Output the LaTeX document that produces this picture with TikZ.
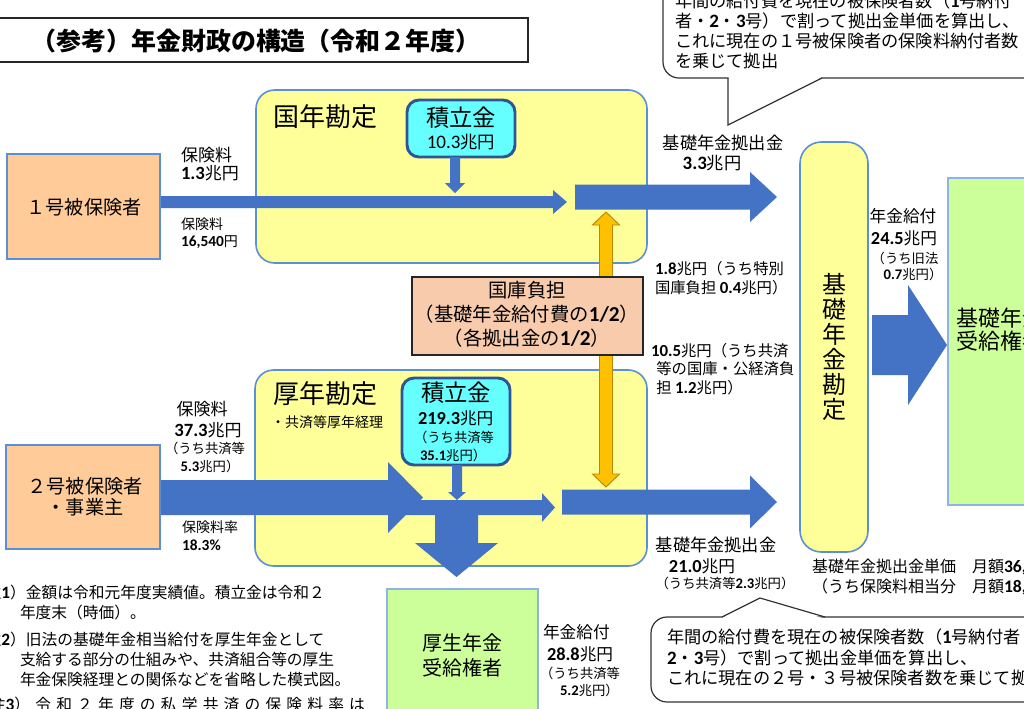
\documentclass[tikz,border=0pt]{standalone}
\usepackage{fontspec}
\setmainfont{Noto Sans CJK JP}
\newfontfamily\carl{Carlito}[Scale=1.1]
\newcommand\nb[1]{{\carl\bfseries #1}}
\newcommand\nr[1]{{\carl #1}}
\usetikzlibrary{fit}
\definecolor{acctyellow}{HTML}{FFFF99}
\definecolor{boxblue}{HTML}{5B8FD6}
\definecolor{fundcyan}{HTML}{66FFFF}
\definecolor{funddark}{HTML}{2F5597}
\definecolor{peach}{HTML}{FFCC99}
\definecolor{kokkofill}{HTML}{F8CBAD}
\definecolor{arrowblue}{HTML}{4472C4}
\definecolor{subsidyorange}{HTML}{FFC000}
\definecolor{subsidyedge}{HTML}{B8860B}
\definecolor{recvgreen}{HTML}{CCFF99}
\definecolor{recvblue}{HTML}{8EB4E3}
% horizontal block arrow: style, x start, x tip, y centre, shaft half, head half, head length
\newcommand\harr[7]{\fill[#1] (#2,{#4-#5}) -- ({#3-#7},{#4-#5}) -- ({#3-#7},{#4-#6}) -- (#3,#4) -- ({#3-#7},{#4+#6}) -- ({#3-#7},{#4+#5}) -- (#2,{#4+#5}) -- cycle;}
% vertical (downward) block arrow: style, x centre, y start, y tip, shaft half, head half, head length
\newcommand\varr[7]{\fill[#1] ({#2-#5},#3) -- ({#2-#5},{#4-#7}) -- ({#2-#6},{#4-#7}) -- (#2,#4) -- ({#2+#6},{#4-#7}) -- ({#2+#5},{#4-#7}) -- ({#2+#5},#3) -- cycle;}
\begin{document}
\begin{tikzpicture}[x=0.75pt,y=-0.75pt,
  acct/.style={draw=boxblue,line width=1.2pt,fill=acctyellow,rounded corners=14pt,inner sep=0pt},
  fund/.style={draw=funddark,line width=2.2pt,fill=fundcyan,rounded corners=9pt,inner sep=0pt},
  person/.style={draw=boxblue,line width=1.1pt,fill=peach,inner sep=0pt},
  recv/.style={draw=recvblue,line width=1.2pt,fill=recvgreen,inner sep=0pt},
  kokko/.style={draw=black!85,line width=1.6pt,fill=kokkofill,inner sep=0pt},
  titlebox/.style={draw=black!85,line width=1.3pt,fill=white,inner sep=0pt},
  flow/.style={fill=arrowblue},
  subsidy/.style={fill=subsidyorange,draw=subsidyedge,line width=0.7pt},
  callout/.style={draw=black!80,line width=0.9pt,fill=white},
  lbl/.style={inner sep=0pt,outer sep=0pt},
]
\useasboundingbox (0,0) rectangle (1024,708);
\clip (0,0) rectangle (1024,708);
\fill[white] (0,0) rectangle (1024,708);

% ---------- title ----------
\node[titlebox, fit={(-3,18)(528,62)}] (titlefr) {};
\node[lbl, font={\fontsize{18.7}{20}\selectfont\bfseries}] (title) at (256,41) {（参考）年金財政の構造（令和２年度）};

% ---------- accounts ----------
\node[acct, fit={(256,90)(647,263)}] (kokunen) {};
\node[acct, fit={(255,370)(647,566)}] (kounen) {};
\node[acct, rounded corners=16pt, fit={(800,142)(868,552)}] (kiso) {};

\node[lbl, anchor=west, font={\fontsize{19.5}{20}\selectfont}] (kokunenlbl) at (273,117) {国年勘定};
\node[lbl, anchor=west, font={\fontsize{19.5}{20}\selectfont}] (kounenlbl) at (273,394) {厚年勘定};
\node[lbl, anchor=west, font={\fontsize{10.5}{12}\selectfont}] (kyosai) at (271,422) {・共済等厚年経理};

\node[lbl, align=center, font={\fontsize{18}{18.75}\selectfont}] (kisot) at (834,347) {基\\礎\\年\\金\\勘\\定};

% ---------- reserve funds ----------
\node[fund, fit={(407,100)(515,157)}] (fund1) {};
\node[lbl, font={\fontsize{17.5}{18}\selectfont}] (fund1a) at (461,118) {積立金};
\node[lbl, font={\fontsize{13}{14}\selectfont}] (fund1b) at (461,142) {\nr{10.3}兆円};

\node[fund, fit={(402,378)(510,465)}] (fund2) {};
\node[lbl, font={\fontsize{17.5}{18}\selectfont}] (fund2a) at (456,393) {積立金};
\node[lbl, anchor=west, font={\fontsize{12.5}{13}\selectfont}] (fund2b) at (418,418) {\nb{219.3}兆円};
\node[lbl, anchor=west, font={\fontsize{10}{11}\selectfont}] (fund2c) at (414,437) {（うち共済等};
\node[lbl, anchor=west, font={\fontsize{10}{11}\selectfont}] (fund2d) at (420,455) {\nb{35.1}兆円）};

% ---------- insured ----------
\node[person, fit={(7,154)(160,259)}] (p1) {};
\node[lbl, font={\fontsize{14.4}{15}\selectfont}] (p1t) at (84,207) {１号被保険者};
\node[person, fit={(6,445)(160,549)}] (p2) {};
\node[lbl, align=center, font={\fontsize{14.4}{15.75}\selectfont}] (p2t) at (85,497) {２号被保険者\\・事業主};

% ---------- blue flows ----------
\varr{flow}{455}{157}{193}{5}{10}{10}
\harr{flow}{161}{567}{202}{6}{12}{14}
\harr{flow}{575}{777}{197}{12.5}{25}{27}

\varr{flow}{457}{465}{500}{5}{9}{8}
\harr{flow}{400}{555}{507.5}{7.5}{14.5}{13}
\harr{flow}{161}{423}{497.5}{17.5}{35.5}{35}
\varr{flow}{456.5}{512}{577}{21.5}{41.5}{34}
\harr{flow}{562}{777}{502}{12.5}{26.5}{27}

\harr{flow}{872}{947}{345}{30}{60}{39}

% ---------- state subsidy ----------
\path[subsidy] (606,212) -- (619.5,225) -- (612.5,225) -- (612.5,474) -- (619.5,474) -- (606,487)
  -- (592.5,474) -- (599.5,474) -- (599.5,225) -- (592.5,225) -- cycle;
\node[kokko, fit={(412,277)(643,355)}] (kokko) {};
\node[lbl, align=center, font={\fontsize{14.5}{18}\selectfont}] (kokkot) at (527,314)
  {国庫負担\\（基礎年金給付費の\nb{1/2}）\\（各拠出金の\nb{1/2}）};

% ---------- receivers ----------
\node[recv, fit={(948,178)(1040,505)}] (recvk) {};
\node[lbl, anchor=west, align=left, font={\fontsize{16.5}{17.25}\selectfont}] (recvkt) at (956,330) {基礎年金\\受給権者};
\node[recv, fit={(387,589)(538,720)}] (recvk2) {};
\node[lbl, align=center, font={\fontsize{15}{18.75}\selectfont}] (recvk2t) at (462,655) {厚生年金\\受給権者};

% ---------- flow labels ----------
\node[lbl, anchor=west, align=left, font={\fontsize{12.75}{13.5}\selectfont}] (prem1) at (181,164) {保険料\\\nb{1.3}兆円};
\node[lbl, anchor=west, align=left, font={\fontsize{10.5}{12.75}\selectfont}] (rate1) at (181,233) {保険料\\\nb{16,540}円};

\node[lbl, font={\fontsize{12.75}{13}\selectfont}] (prem2a) at (202,409) {保険料};
\node[lbl, font={\fontsize{12.75}{13}\selectfont}] (prem2b) at (208,430) {\nb{37.3}兆円};
\node[lbl, font={\fontsize{10}{11}\selectfont}] (prem2c) at (205,448) {（うち共済等};
\node[lbl, font={\fontsize{10}{11}\selectfont}] (prem2d) at (210,466) {\nb{5.3}兆円）};
\node[lbl, anchor=west, align=left, font={\fontsize{10.5}{13.5}\selectfont}] (rate2) at (182,536) {保険料率\\\nb{18.3\%}};

\node[lbl, font={\fontsize{12.9}{13}\selectfont}] (contrib1a) at (723,143) {基礎年金拠出金};
\node[lbl, font={\fontsize{12.9}{13}\selectfont}] (contrib1b) at (712,163) {\nb{3.3}兆円};

\node[lbl, anchor=west, align=left, font={\fontsize{11.5}{14.25}\selectfont}] (sub1) at (655,278) {\nb{1.8}兆円（うち特別\\国庫負担 \nb{0.4}兆円）};
\node[lbl, anchor=west, align=left, font={\fontsize{11.5}{13.9}\selectfont}] (sub2) at (651,369) {\nb{10.5}兆円（うち共済\\\hspace*{4pt}等の国庫・公経済負\\\hspace*{4pt}担 \nb{1.2}兆円）};

\node[lbl, font={\fontsize{12.9}{13}\selectfont}] (contrib2a) at (716,545) {基礎年金拠出金};
\node[lbl, font={\fontsize{12.5}{13}\selectfont}] (contrib2b) at (702,566) {\nb{21.0}兆円};
\node[lbl, font={\fontsize{10}{11}\selectfont}] (contrib2c) at (725,583) {（うち共済等\nb{2.3}兆円）};

\node[lbl, font={\fontsize{12.5}{13}\selectfont}] (ben1a) at (903,216) {年金給付};
\node[lbl, font={\fontsize{12.5}{13}\selectfont}] (ben1b) at (904,238) {\nb{24.5}兆円};
\node[lbl, font={\fontsize{10}{11}\selectfont}] (ben1c) at (905,258) {（うち旧法};
\node[lbl, font={\fontsize{10}{11}\selectfont}] (ben1d) at (913,274) {\nb{0.7}兆円）};

\node[lbl, anchor=west, font={\fontsize{12.5}{13}\selectfont}] (ben2a) at (543,632) {年金給付};
\node[lbl, anchor=west, font={\fontsize{12.5}{13}\selectfont}] (ben2b) at (547,654) {\nb{28.8}兆円};
\node[lbl, anchor=west, font={\fontsize{10}{11}\selectfont}] (ben2c) at (540,673) {（うち共済等};
\node[lbl, anchor=west, font={\fontsize{10}{11}\selectfont}] (ben2d) at (560,690) {\nb{5.2}兆円）};

\node[lbl, anchor=west, align=left, font={\fontsize{12}{15}\selectfont}] (unit) at (812,577)
  {基礎年金拠出金単価　月額\nb{36,}\\（うち保険料相当分　月額\nb{18,}};

% ---------- callouts ----------
\draw[callout, rounded corners=12pt] (663,-30) rectangle (1040,78);
\fill[white] (728.6,73) -- (728.6,124) -- (830,73) -- cycle;
\draw[black!80, line width=0.9pt] (728,78) -- (728,125) -- (822,78);
\node[lbl, anchor=north west, align=left, font={\fontsize{12.9}{15}\selectfont}] (callout1) at (675,-7)
  {年間の給付費を現在の被保険者数（\nb{1}号納付\\者・\nb{2}・\nb{3}号）で割って拠出金単価を算出し、\\これに現在の１号被保険者の保険料納付者数\\を乗じて拠出};

\draw[callout, rounded corners=12pt] (651,617) rectangle (1040,702);
\fill[white] (716,621) -- (760,598.6) -- (832,621) -- cycle;
\draw[black!80, line width=0.9pt] (722,617) -- (760,598) -- (825,617);
\node[lbl, anchor=west, align=left, font={\fontsize{12.9}{15.4}\selectfont}] (callout2) at (667,657.5)
  {年間の給付費を現在の被保険者数（\nb{1}号納付者\\\nb{2}・\nb{3}号）で割って拠出金単価を算出し、\\これに現在の２号・３号被保険者数を乗じて拠};

% ---------- notes ----------
\node[lbl, anchor=west, font={\fontsize{11.8}{12}\selectfont}] (note1) at (-30,593) {（注\nb{1}）金額は令和元年度実績値。積立金は令和２};
\node[lbl, anchor=west, font={\fontsize{11.8}{12}\selectfont}] (note1b) at (20,613) {年度末（時価）。};
\node[lbl, anchor=west, font={\fontsize{11.8}{12}\selectfont}] (note2) at (-30,640) {（注\nb{2}）旧法の基礎年金相当給付を厚生年金として};
\node[lbl, anchor=west, font={\fontsize{11.8}{12}\selectfont}] (note2b) at (20,660) {支給する部分の仕組みや、共済組合等の厚生};
\node[lbl, anchor=west, font={\fontsize{11.8}{12}\selectfont}] (note2c) at (20,680) {年金保険経理との関係などを省略した模式図。};
\node[lbl, anchor=west, font={\fontsize{11.8}{12}\selectfont\addfontfeature{LetterSpace=33}}] (note3) at (-31,705) {（注\nb{3}）令和２年度の私学共済の保険料率は};
\end{tikzpicture}
\end{document}
